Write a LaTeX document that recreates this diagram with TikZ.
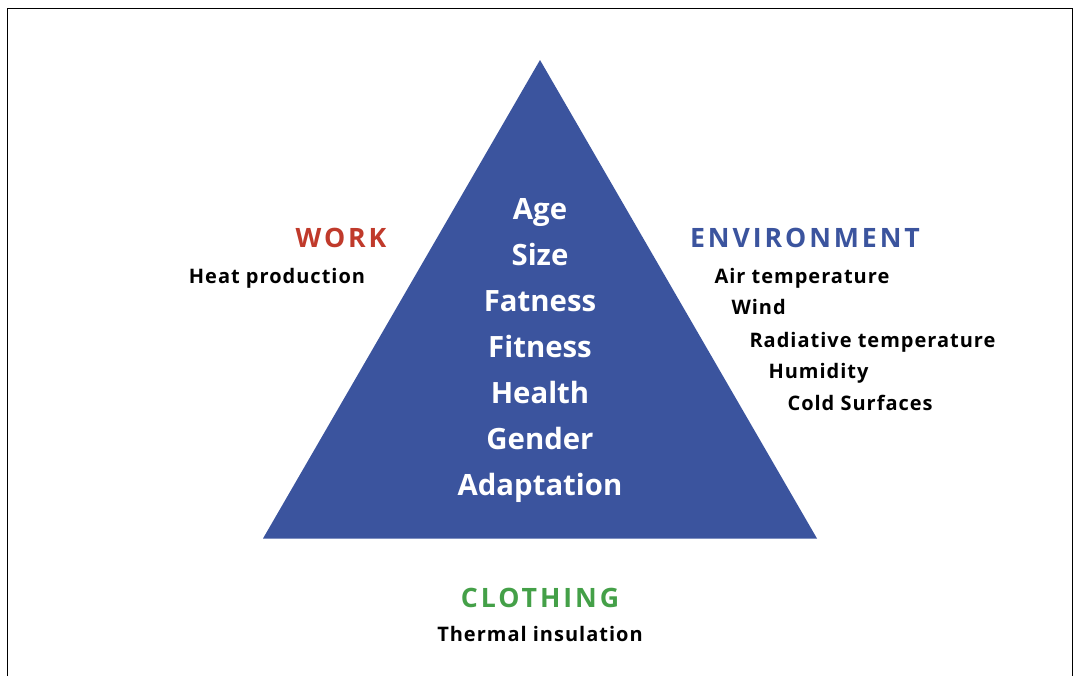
\documentclass[tikz,border=0pt]{standalone}
\usepackage{fontspec}
\setmainfont{Open Sans}

\definecolor{triblue}{RGB}{59,84,158}
\definecolor{workred}{RGB}{192,58,43}
\definecolor{clothgreen}{RGB}{68,160,72}

\tikzset{every picture/.style={line width=0.75pt}}
\tikzset{
  factor/.style={anchor=base, inner sep=0.75pt, text=white, font=\bfseries\fontsize{22}{27}\selectfont},
  heading/.style={anchor=base, inner sep=0.75pt, font=\bfseries\fontsize{20}{24}\selectfont\addfontfeatures{LetterSpace=11}},
  item/.style={inner sep=0.75pt, font=\bfseries\fontsize{15}{19}\selectfont\addfontfeatures{LetterSpace=5}},
}

\begin{document}
\begin{tikzpicture}[x=0.75pt,y=0.75pt,yscale=-1,xscale=1]
\useasboundingbox (0,0) rectangle (1074,676);

%Frame (open at the bottom)
\draw [line width=1.1]  (7.5,676) -- (7.5,8.5) -- (1072.5,8.5) -- (1072.5,676) ;

%Triangle
\fill [triblue]  (540,60) -- (817,538.5) -- (263,538.5) -- cycle ;

%Personal factors inside the triangle
\foreach \name/\txt [count=\i from 0] in {age/Age,size/Size,fatness/Fatness,fitness/Fitness,health/Health,gender/Gender,adaptation/Adaptation}
  \node (\name) [factor] at (540,219+46*\i) {\txt};

% Work
\node (work) [heading, text=workred] at (341,247) {WORK};
\node (heat) [item, anchor=base] at (277,283) {Heat production};

% Environment
\node (env) [heading, text=triblue] at (805,247) {ENVIRONMENT};
\node (airtemp) [item, anchor=base west] at (713,283) {Air temperature};
\node (wind) [item, anchor=base west] at (730,314) {Wind};
\node (radtemp) [item, anchor=base west] at (748,347) {Radiative temperature};
\node (humidity) [item, anchor=base west] at (767,378) {Humidity};
\node (coldsurf) [item, anchor=base west] at (786,410) {Cold Surfaces};

% Clothing
\node (clothing) [heading, text=clothgreen] at (540,607) {CLOTHING};
\node (insulation) [item, anchor=base] at (540,641) {Thermal insulation};

\end{tikzpicture}
\end{document}
